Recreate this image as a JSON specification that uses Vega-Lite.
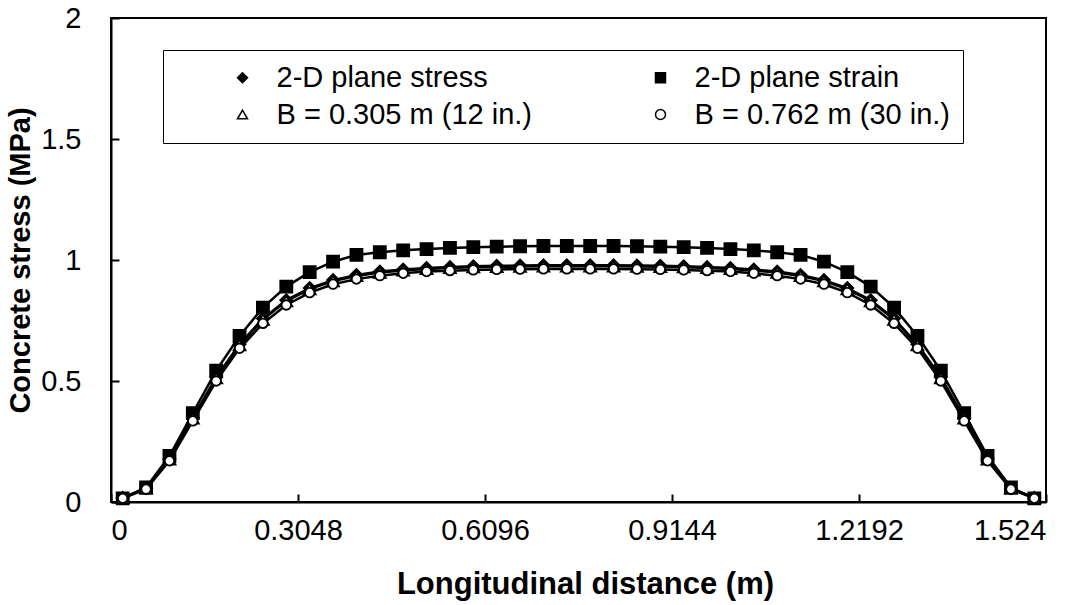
{
  "$schema": "https://vega.github.io/schema/vega-lite/v6.json",
  "width": 935,
  "height": 484,
  "autosize": "none",
  "padding": {"left": 111, "top": 18, "right": 43, "bottom": 103},
  "background": "white",
  "config": {
    "view": {"stroke": "black", "strokeWidth": 2},
    "font": "Liberation Sans",
    "axis": {
      "grid": false,
      "domainColor": "black",
      "domainWidth": 2,
      "tickColor": "black",
      "tickWidth": 2,
      "tickSize": -8,
      "labelColor": "black",
      "titleColor": "black",
      "labelFont": "Liberation Sans",
      "titleFont": "Liberation Sans",
      "labelFontSize": 29,
      "titleFontWeight": "bold"
    },
    "legend": {
      "orient": "none",
      "direction": "horizontal",
      "legendX": 52,
      "legendY": 32,
      "columns": 2,
      "labelFont": "Liberation Sans",
      "labelFontSize": 29,
      "labelColor": "black",
      "labelLimit": 600,
      "labelOffset": 19.5,
      "symbolOffset": 52,
      "symbolSize": 100,
      "symbolStrokeWidth": 1.5,
      "strokeColor": "black",
      "fillColor": "white",
      "padding": 13,
      "rowPadding": 7,
      "columnPadding": 62
    }
  },
  "data": {
    "values": [
      {"x": 0.01905, "ps": 0.017, "pe": 0.015, "b12": 0.017, "b30": 0.015},
      {"x": 0.05715, "ps": 0.057, "pe": 0.06, "b12": 0.056, "b30": 0.053},
      {"x": 0.09525, "ps": 0.178, "pe": 0.19, "b12": 0.176, "b30": 0.17},
      {"x": 0.13335, "ps": 0.348, "pe": 0.367, "b12": 0.345, "b30": 0.335},
      {"x": 0.17145, "ps": 0.516, "pe": 0.543, "b12": 0.512, "b30": 0.5},
      {"x": 0.20955, "ps": 0.652, "pe": 0.686, "b12": 0.648, "b30": 0.635},
      {"x": 0.24765, "ps": 0.758, "pe": 0.803, "b12": 0.754, "b30": 0.738},
      {"x": 0.28575, "ps": 0.834, "pe": 0.89, "b12": 0.83, "b30": 0.814},
      {"x": 0.32385, "ps": 0.884, "pe": 0.95, "b12": 0.88, "b30": 0.865},
      {"x": 0.36195, "ps": 0.917, "pe": 0.993, "b12": 0.913, "b30": 0.9},
      {"x": 0.40005, "ps": 0.938, "pe": 1.021, "b12": 0.934, "b30": 0.921},
      {"x": 0.43815, "ps": 0.952, "pe": 1.032, "b12": 0.948, "b30": 0.935},
      {"x": 0.47625, "ps": 0.961, "pe": 1.04, "b12": 0.957, "b30": 0.945},
      {"x": 0.51435, "ps": 0.967, "pe": 1.045, "b12": 0.963, "b30": 0.952},
      {"x": 0.55245, "ps": 0.971, "pe": 1.05, "b12": 0.967, "b30": 0.956},
      {"x": 0.59055, "ps": 0.974, "pe": 1.053, "b12": 0.97, "b30": 0.959},
      {"x": 0.62865, "ps": 0.976, "pe": 1.055, "b12": 0.972, "b30": 0.961},
      {"x": 0.66675, "ps": 0.977, "pe": 1.057, "b12": 0.973, "b30": 0.962},
      {"x": 0.70485, "ps": 0.978, "pe": 1.058, "b12": 0.974, "b30": 0.963},
      {"x": 0.74295, "ps": 0.978, "pe": 1.058, "b12": 0.974, "b30": 0.963},
      {"x": 0.78105, "ps": 0.978, "pe": 1.058, "b12": 0.974, "b30": 0.963},
      {"x": 0.81915, "ps": 0.978, "pe": 1.058, "b12": 0.974, "b30": 0.963},
      {"x": 0.85725, "ps": 0.977, "pe": 1.057, "b12": 0.973, "b30": 0.962},
      {"x": 0.89535, "ps": 0.976, "pe": 1.055, "b12": 0.972, "b30": 0.961},
      {"x": 0.93345, "ps": 0.974, "pe": 1.053, "b12": 0.97, "b30": 0.959},
      {"x": 0.97155, "ps": 0.971, "pe": 1.05, "b12": 0.967, "b30": 0.956},
      {"x": 1.00965, "ps": 0.967, "pe": 1.045, "b12": 0.963, "b30": 0.952},
      {"x": 1.04775, "ps": 0.961, "pe": 1.04, "b12": 0.957, "b30": 0.945},
      {"x": 1.08585, "ps": 0.952, "pe": 1.032, "b12": 0.948, "b30": 0.935},
      {"x": 1.12395, "ps": 0.938, "pe": 1.021, "b12": 0.934, "b30": 0.921},
      {"x": 1.16205, "ps": 0.917, "pe": 0.993, "b12": 0.913, "b30": 0.9},
      {"x": 1.20015, "ps": 0.884, "pe": 0.95, "b12": 0.88, "b30": 0.865},
      {"x": 1.23825, "ps": 0.834, "pe": 0.89, "b12": 0.83, "b30": 0.814},
      {"x": 1.27635, "ps": 0.758, "pe": 0.803, "b12": 0.754, "b30": 0.738},
      {"x": 1.31445, "ps": 0.652, "pe": 0.686, "b12": 0.648, "b30": 0.635},
      {"x": 1.35255, "ps": 0.516, "pe": 0.543, "b12": 0.512, "b30": 0.5},
      {"x": 1.39065, "ps": 0.348, "pe": 0.367, "b12": 0.345, "b30": 0.335},
      {"x": 1.42875, "ps": 0.178, "pe": 0.19, "b12": 0.176, "b30": 0.17},
      {"x": 1.46685, "ps": 0.057, "pe": 0.06, "b12": 0.056, "b30": 0.053},
      {"x": 1.50495, "ps": 0.017, "pe": 0.015, "b12": 0.017, "b30": 0.015}
    ]
  },
  "transform": [{"fold": ["ps", "pe", "b12", "b30"], "as": ["s", "y"]}],
  "encoding": {
    "x": {
      "field": "x",
      "type": "quantitative",
      "scale": {"domain": [0, 1.524], "nice": false, "zero": false},
      "axis": {
        "values": [0, 0.3048, 0.6096, 0.9144, 1.2192, 1.524],
        "labelExpr": "format(datum.value, '.6~g')",
        "title": "Longitudinal distance (m)",
        "titleFontSize": 31,
        "labelPadding": 22,
        "titlePadding": 24,
        "titleX": 474
      }
    },
    "y": {
      "field": "y",
      "type": "quantitative",
      "scale": {"domain": [0, 2], "nice": false},
      "axis": {
        "values": [0, 0.5, 1, 1.5, 2],
        "labelExpr": "format(datum.value, '~g')",
        "title": "Concrete stress (MPa)",
        "titleFontSize": 29,
        "labelPadding": 38,
        "titlePadding": 5
      }
    }
  },
  "layer": [
    {
      "mark": {"type": "line", "stroke": "black", "strokeWidth": 2.5},
      "encoding": {"detail": {"field": "s", "type": "nominal"}}
    },
    {
      "mark": {"type": "point", "filled": true, "strokeWidth": 1.8, "opacity": 1},
      "encoding": {
        "size": {"condition": {"test": "datum.s == 'b30'", "value": 90}, "value": 145},
        "shape": {
          "field": "s",
          "type": "nominal",
          "scale": {"domain": ["ps", "pe", "b12", "b30"], "range": ["diamond", "square", "triangle-up", "circle"]},
          "legend": {
            "title": null,
            "labelExpr": "datum.value == 'ps' ? '2-D plane stress' : datum.value == 'pe' ? '2-D plane strain' : datum.value == 'b12' ? 'B = 0.305 m (12 in.)' : 'B = 0.762 m (30 in.)'"
          }
        },
        "fill": {
          "field": "s",
          "type": "nominal",
          "scale": {"domain": ["ps", "pe", "b12", "b30"], "range": ["black", "black", "white", "white"]},
          "legend": {
            "title": null,
            "labelExpr": "datum.value == 'ps' ? '2-D plane stress' : datum.value == 'pe' ? '2-D plane strain' : datum.value == 'b12' ? 'B = 0.305 m (12 in.)' : 'B = 0.762 m (30 in.)'"
          }
        },
        "stroke": {
          "field": "s",
          "type": "nominal",
          "scale": {"domain": ["ps", "pe", "b12", "b30"], "range": ["black", "black", "black", "black"]},
          "legend": {
            "title": null,
            "labelExpr": "datum.value == 'ps' ? '2-D plane stress' : datum.value == 'pe' ? '2-D plane strain' : datum.value == 'b12' ? 'B = 0.305 m (12 in.)' : 'B = 0.762 m (30 in.)'"
          }
        }
      }
    }
  ]
}
